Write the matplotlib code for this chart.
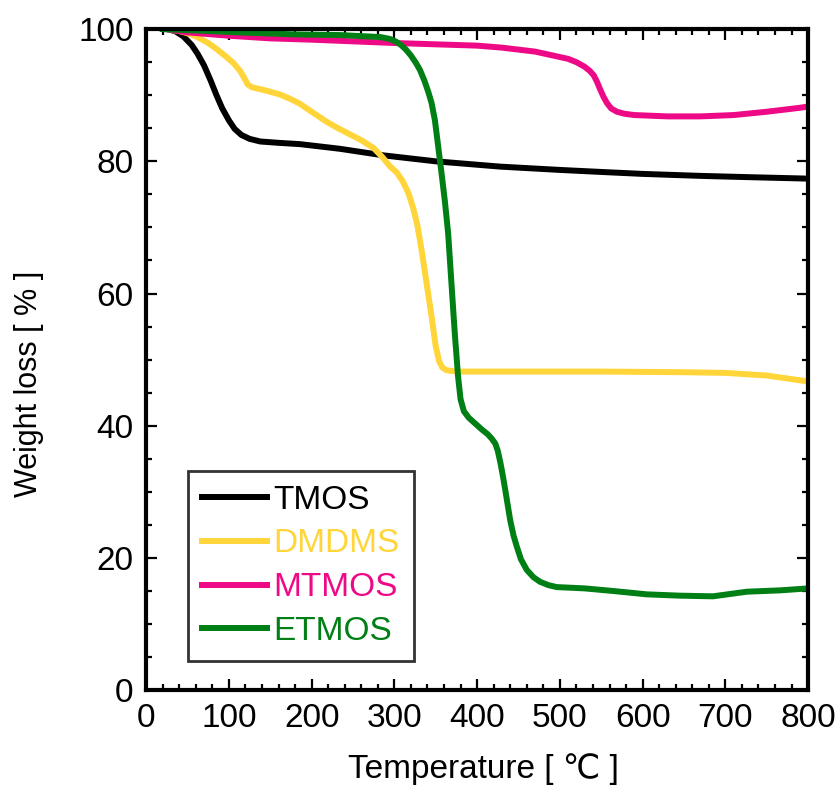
import matplotlib.pyplot as plt
from matplotlib.ticker import MultipleLocator

plt.rcParams['font.family'] = ['Liberation Sans', 'DejaVu Sans']

# datos (temperatura en C, peso en %)
T_tmos = [25, 35, 45, 55, 62, 70, 78, 85, 92, 100, 107, 115, 125, 138, 160, 186,
          234, 287, 350, 428, 500, 549, 600, 670, 730, 795]
W_tmos = [100, 99.7, 98.9, 97.6, 96.3, 94.5, 92.2, 90.0, 88.0, 86.2, 84.9, 84.0,
          83.4, 83.0, 82.8, 82.6, 81.9, 80.9, 80.0, 79.2, 78.7, 78.4, 78.1, 77.8,
          77.6, 77.4]

T_dmdms = [25, 40, 55, 65, 75, 85, 97, 106, 114, 119, 123, 128, 135, 145, 162,
           175, 186, 200, 218, 232, 246, 260, 275, 285, 295, 303, 310, 317, 323,
           328, 333, 339, 345, 350, 354, 358, 363, 375, 450, 550, 650, 700, 750,
           800]
W_dmdms = [100, 99.7, 99.2, 98.6, 97.9, 97.0, 95.8, 94.8, 93.6, 92.5, 91.6, 91.2,
           91.0, 90.7, 90.1, 89.4, 88.7, 87.5, 86.0, 85.0, 84.1, 83.2, 82.0, 80.7,
           79.2, 78.3, 77.0, 75.2, 72.8, 70.2, 66.5, 61.5, 56.5, 52.0, 49.8, 48.8,
           48.4, 48.2, 48.2, 48.2, 48.1, 48.0, 47.6, 46.7]

T_mtmos = [25, 50, 100, 150, 200, 300, 400, 430, 470, 510, 520, 530, 536, 541,
           545, 549, 553, 557, 562, 569, 578, 590, 630, 670, 710, 750, 790, 800]
W_mtmos = [100, 99.5, 99.0, 98.6, 98.4, 97.9, 97.5, 97.2, 96.6, 95.5, 95.0, 94.3,
           93.7, 93.0, 92.0, 90.8, 89.7, 88.8, 88.0, 87.5, 87.2, 87.0, 86.8, 86.8,
           87.0, 87.5, 88.1, 88.3]

T_etmos = [20, 60, 113, 180, 234, 283, 295, 302, 308, 314, 320, 326, 331, 336,
           341, 345, 349, 353, 357, 361, 365, 369, 373, 377, 380, 384, 390, 398,
           406, 413, 418, 422, 425, 428, 431, 434, 437, 440, 444, 448, 453, 460,
           468, 476, 486, 496, 530, 565, 605, 645, 685, 726, 766, 800]
W_etmos = [100, 99.8, 99.5, 99.2, 99.1, 98.8, 98.5, 98.1, 97.6, 96.9, 96.0, 94.9,
           93.8, 92.3, 90.5, 88.8, 86.2, 82.2, 78.2, 74.0, 69.1, 61.5, 54.0, 47.4,
           44.0, 42.2, 41.2, 40.3, 39.4, 38.7, 38.0, 37.3, 36.2, 34.5, 32.5, 30.3,
           28.0, 25.7, 23.4, 21.7, 19.8, 18.2, 17.1, 16.4, 15.9, 15.6, 15.4, 15.0,
           14.5, 14.3, 14.2, 14.9, 15.1, 15.4]

nombres = ["TMOS", "DMDMS", "MTMOS", "ETMOS"]
colores = ["#000000", "#FFD53A", "#EE0A86", "#007F14"]

fig = plt.figure(figsize=(8.4, 7.87), dpi=100)
ax = fig.add_axes([0.174, 0.123, 0.788, 0.840])

series = [(T_tmos, W_tmos), (T_dmdms, W_dmdms), (T_mtmos, W_mtmos), (T_etmos, W_etmos)]
for (t, w), nom, col in zip(series, nombres, colores):
    ax.plot(t, w, color=col, lw=4.3, label=nom, solid_joinstyle='round')

ax.set_xlim(0, 800)
ax.set_ylim(0, 100)
ax.xaxis.set_major_locator(MultipleLocator(100))
ax.xaxis.set_minor_locator(MultipleLocator(20))
ax.yaxis.set_major_locator(MultipleLocator(20))
ax.yaxis.set_minor_locator(MultipleLocator(5))
ax.tick_params(which='both', direction='in', top=True, right=True, width=1.6,
               labelsize=24)
ax.tick_params(which='major', length=8, pad=9)
ax.tick_params(which='minor', length=4)
for s in ax.spines.values():
    s.set_linewidth(3)

ax.set_xlabel("Temperature [ ℃ ]", fontsize=24, labelpad=10)
ax.xaxis.set_label_coords(0.51, -0.095)
ax.set_ylabel("Weight loss [ % ]", fontsize=22)
ax.yaxis.set_label_coords(-0.155, 0.464)

leg = ax.legend(loc='lower left', bbox_to_anchor=(0.063, 0.044), fontsize=24,
                frameon=True, fancybox=False, edgecolor='black', handlelength=1.95,
                handletextpad=0.2, labelspacing=0.385, borderpad=0.42,
                borderaxespad=0)
leg.get_frame().set_linewidth(2)
for txt, col in zip(leg.get_texts(), colores):
    txt.set_color(col)

fig.savefig("out.png", dpi=100)
